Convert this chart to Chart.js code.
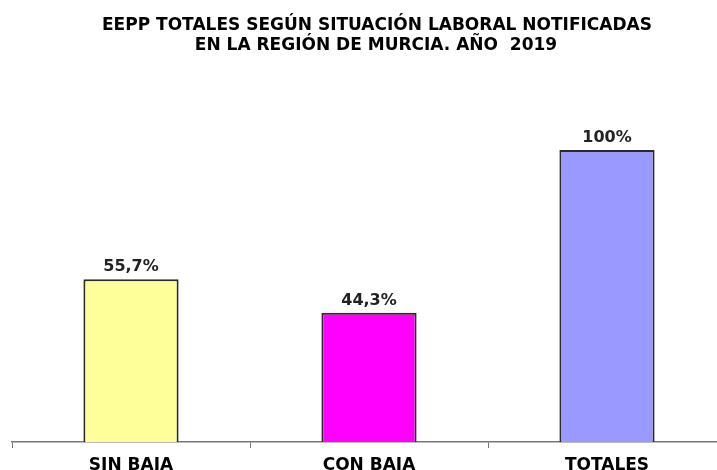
<!DOCTYPE html>
<html>
<head>
<meta charset="utf-8">
<script src="https://cdn.jsdelivr.net/npm/chart.js@4/dist/chart.umd.min.js"></script>
<style>
  html, body { margin: 0; padding: 0; overflow: hidden; background: #fff; }
  #wrap { width: 730px; height: 470px; }
</style>
</head>
<body>
<div id="wrap"><canvas id="grafico" width="730" height="470"></canvas></div>
<script>
var categorias = ["SIN BAJA", "CON BAJA", "TOTALES"];
var porcentajes = [55.7, 44.3, 100];
var etiquetas = ["55,7%", "44,3%", "100%"];
var colores = ["#FFFF99", "#FF00FF", "#9999FF"];
var titulo = ["EEPP TOTALES SEGÚN SITUACIÓN LABORAL NOTIFICADAS", "EN LA REGIÓN DE MURCIA. AÑO  2019"];

var fuente = "'DejaVu Sans', 'Liberation Sans', sans-serif";

// titulo en dos lineas, algo desplazado a la derecha como en el original
var tituloGrafico = {
  id: "tituloGrafico",
  afterDraw: function(chart) {
    var ctx = chart.ctx;
    ctx.save();
    ctx.font = "bold 17px " + fuente;
    ctx.fillStyle = "#000";
    ctx.textAlign = "center";
    ctx.textBaseline = "alphabetic";
    ctx.fillText(titulo[0], 377, 29.5);
    ctx.fillText(titulo[1], 376, 50);
    ctx.restore();
  }
};

// pinta el porcentaje encima de cada barra
var etiquetasBarras = {
  id: "etiquetasBarras",
  afterDatasetsDraw: function(chart) {
    var ctx = chart.ctx;
    var meta = chart.getDatasetMeta(0);
    ctx.save();
    ctx.font = "bold 16px " + fuente;
    ctx.fillStyle = "#222";
    ctx.textAlign = "center";
    ctx.textBaseline = "alphabetic";
    meta.data.forEach(function(bar, i) {
      ctx.fillText(etiquetas[i], bar.x, bar.y - 8);
    });
    ctx.restore();
  }
};

var grafico = document.getElementById("grafico").getContext("2d");

var chart = new Chart(grafico, {
  type: "bar",
  data: {
    labels: categorias,
    datasets: [
      {
        data: porcentajes,
        backgroundColor: colores,
        borderColor: "#2a2a2a",
        borderWidth: 2,
        borderSkipped: "bottom",
        categoryPercentage: 0.8,
        barPercentage: 0.5
      }
    ]
  },
  options: {
    responsive: false,
    animation: false,
    layout: { padding: { left: 12, right: 4, top: 91.6, bottom: 0 } },
    plugins: {
      legend: { display: false },
      tooltip: { enabled: false },
      title: { display: false }
    },
    scales: {
      x: {
        grid: {
          offset: true,
          drawOnChartArea: false,
          drawTicks: true,
          tickLength: 6,
          color: "#777"
        },
        border: { display: true, color: "#777", width: 1.5 },
        ticks: {
          color: "#000",
          padding: 7,
          font: { family: fuente, size: 17, weight: "bold" }
        },
        afterFit: function(s) { s.height = 28; }
      },
      y: {
        display: false,
        min: 0,
        max: 120
      }
    }
  },
  plugins: [etiquetasBarras, tituloGrafico]
});
</script>
</body>
</html>
